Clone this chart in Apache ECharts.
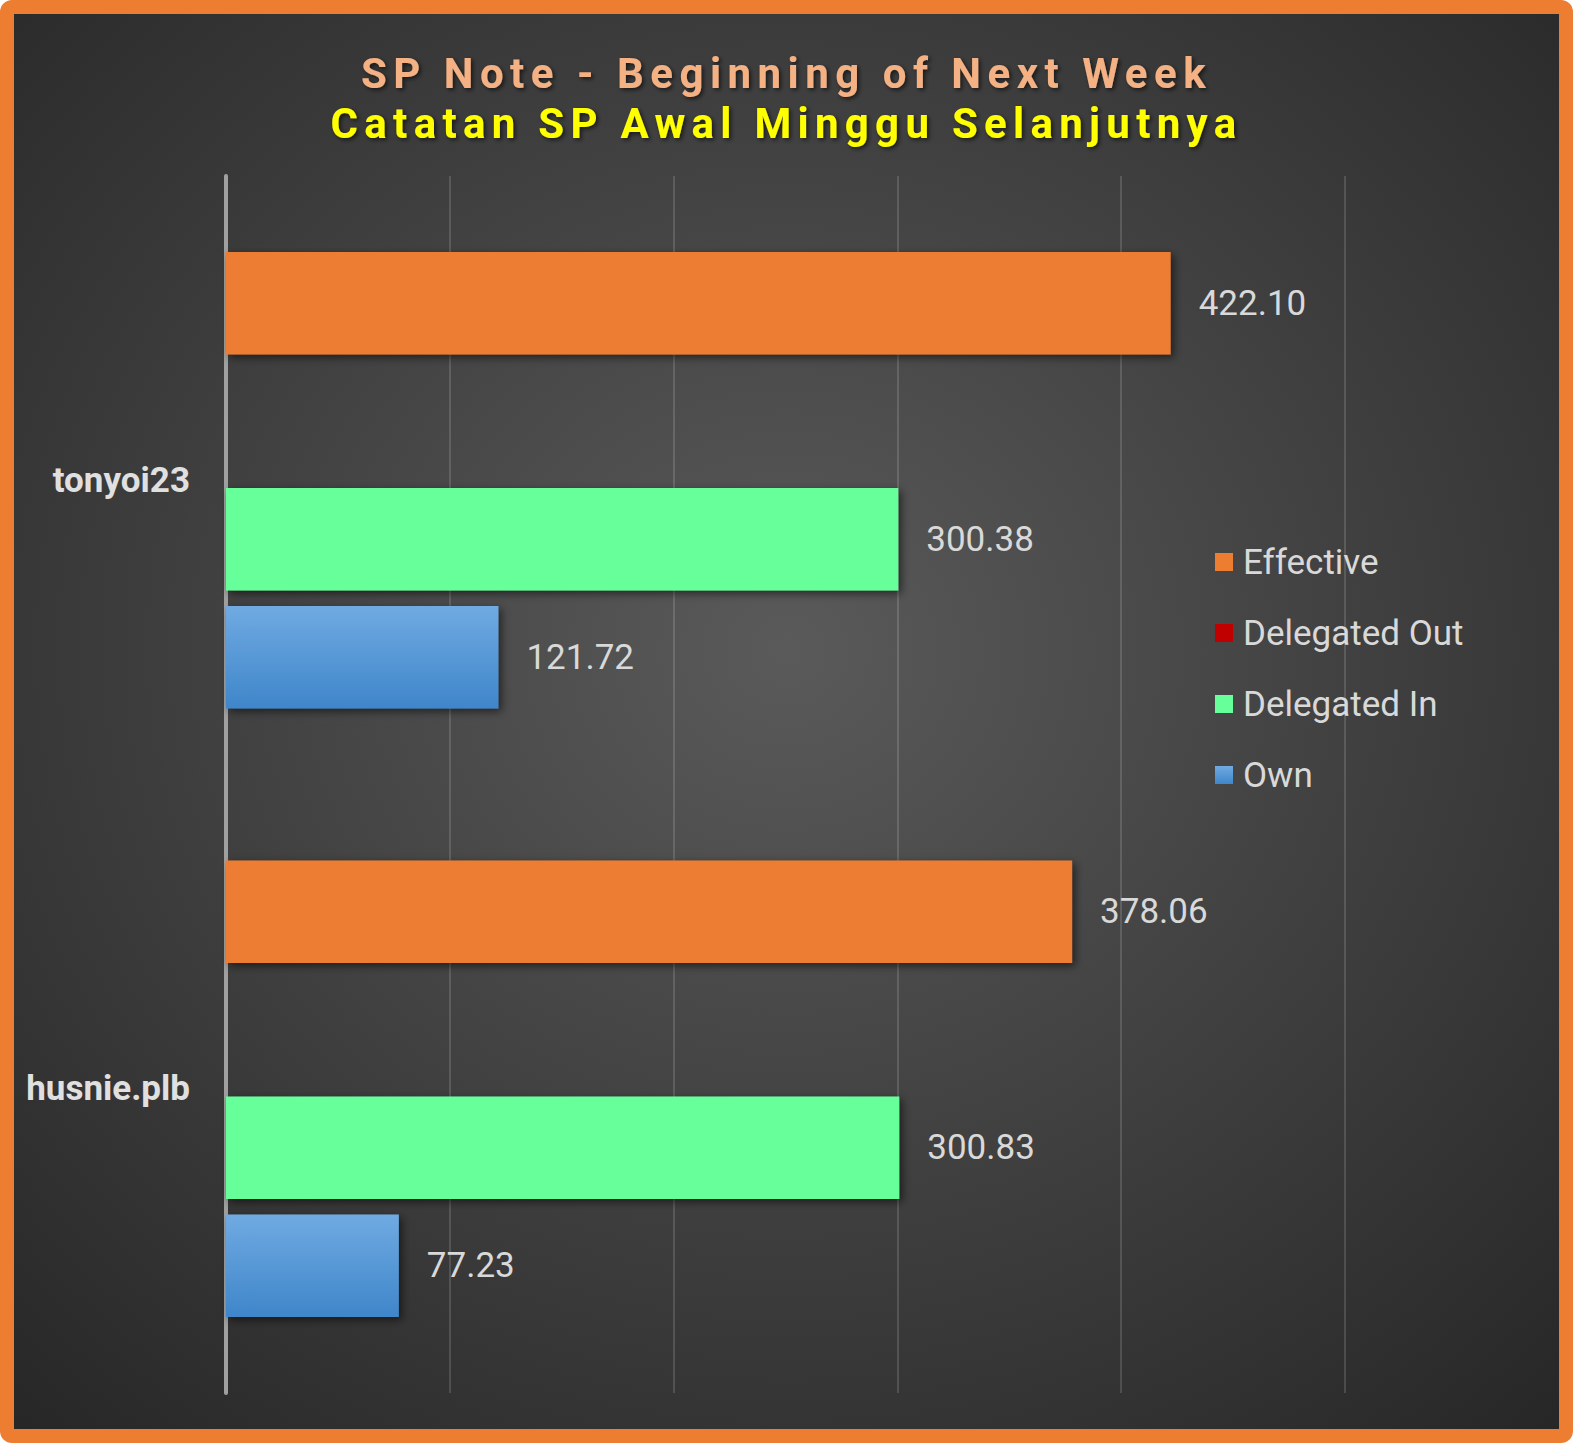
<!DOCTYPE html>
<html>
<head>
<meta charset="utf-8">
<script src="https://cdn.jsdelivr.net/npm/echarts@6/dist/echarts.min.js"></script>
<style>
  html, body { margin: 0; padding: 0; background: #ffffff; overflow: hidden; width: 100%; height: 100%; }
  #frame { position: absolute; left: 0; top: 0; width: 100vw; height: 100vh; background: #ED7D31; border-radius: 12px; }
  #chart { position: absolute; left: 14px; top: 14px; right: 14px; bottom: 14px; }
  #chart text[fill="#F4B183" i] { letter-spacing: 6.5px; }
  #chart text[fill="#FFFF00" i] { letter-spacing: 6.3px; }
</style>
</head>
<body>
<div id="frame"><div id="chart"></div></div>
<script>
const categories = ['tonyoi23', 'husnie.plb'];
const seriesNames = ['Effective', 'Delegated Out', 'Delegated In', 'Own'];
const effective = [422.10, 378.06];
const delegatedOut = [0, 0];
const delegatedIn = [300.38, 300.83];
const own = [121.72, 77.23];
const titleLine1 = 'SP Note - Beginning of Next Week';
const titleLine2 = 'Catatan SP Awal Minggu Selanjutnya';

const chart = echarts.init(document.getElementById('chart'), null, { renderer: 'svg' });

const labelStyle = {
  show: true,
  position: 'right',
  distance: 28,
  color: '#D9D9D9',
  fontFamily: 'Roboto',
  fontSize: 35,
  formatter: p => p.value.toFixed(2)
};
const barShadow = { shadowColor: 'rgba(0,0,0,0.55)', shadowBlur: 8, shadowOffsetX: 3, shadowOffsetY: 3 };
const titleShadow = { textShadowColor: 'rgba(0,0,0,0.6)', textShadowBlur: 4, textShadowOffsetX: 2, textShadowOffsetY: 2 };

const option = {
  backgroundColor: {
    type: 'radial', x: 0.5, y: 0.45, r: 0.75,
    colorStops: [{ offset: 0, color: '#5A5A5A' }, { offset: 1, color: '#262626' }]
  },
  title: [
    {
      text: titleLine1, left: 'center', top: 33,
      textStyle: Object.assign({ color: '#F4B183', fontFamily: 'Roboto', fontWeight: 'bold', fontSize: 42, lineHeight: 42 }, titleShadow)
    },
    {
      text: titleLine2, left: 'center', top: 83,
      textStyle: Object.assign({ color: '#FFFF00', fontFamily: 'Roboto', fontWeight: 'bold', fontSize: 42, lineHeight: 42 }, titleShadow)
    }
  ],
  legend: {
    data: seriesNames,
    orient: 'vertical',
    left: 1196, top: 523,
    itemWidth: 18, itemHeight: 18, itemGap: 31,
    icon: 'rect',
    textStyle: { color: '#D9D9D9', fontFamily: 'Roboto', fontSize: 35, lineHeight: 40, padding: [0, 0, 0, 5] }
  },
  grid: { left: 212, top: 162, right: 214, bottom: 36, containLabel: false },
  xAxis: {
    type: 'value', min: 0, max: 500, interval: 100,
    axisLabel: { show: false }, axisLine: { show: false }, axisTick: { show: false },
    splitLine: { lineStyle: { color: 'rgba(255,255,255,0.14)', width: 2 } }
  },
  yAxis: {
    type: 'category', data: categories, inverse: true,
    axisLine: { lineStyle: { color: '#A0A0A0', width: 4 } },
    axisTick: { show: false },
    axisLabel: { color: '#E0E0E0', fontFamily: 'Roboto', fontWeight: 'bold', fontSize: 35, margin: 36 }
  },
  series: [
    { name: 'Effective', type: 'bar', data: effective, barCategoryGap: '25%', barGap: '15%',
      itemStyle: Object.assign({ color: '#ED7D31' }, barShadow), label: labelStyle },
    { name: 'Delegated Out', type: 'bar', data: delegatedOut,
      itemStyle: Object.assign({ color: '#C00000' }, barShadow), label: { show: false } },
    { name: 'Delegated In', type: 'bar', data: delegatedIn,
      itemStyle: Object.assign({ color: '#66FF99' }, barShadow), label: labelStyle },
    { name: 'Own', type: 'bar', data: own,
      itemStyle: Object.assign({
        color: { type: 'linear', x: 0, y: 0, x2: 0, y2: 1,
          colorStops: [{ offset: 0, color: '#70AAE2' }, { offset: 1, color: '#3F86CA' }] }
      }, barShadow), label: labelStyle }
  ]
};
chart.setOption(option);
window.addEventListener('resize', () => chart.resize());
</script>
</body>
</html>
